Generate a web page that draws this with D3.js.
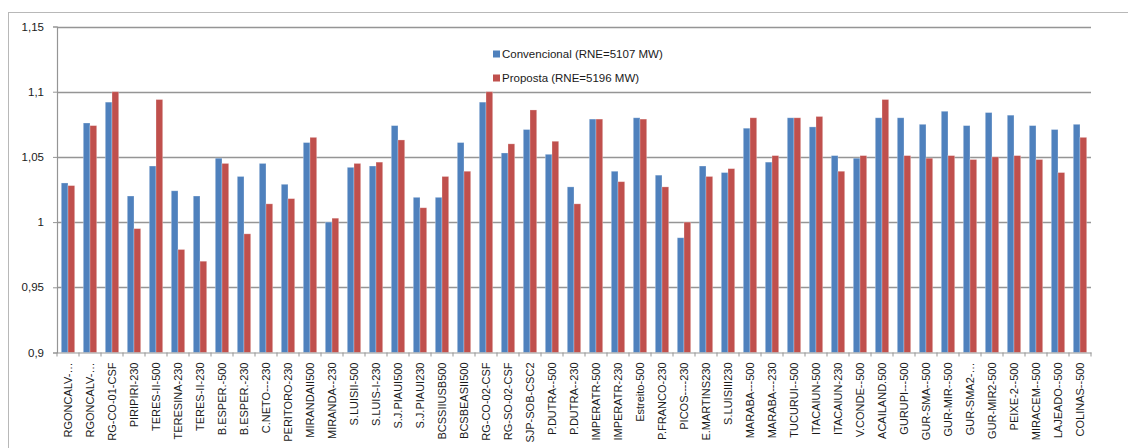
<!DOCTYPE html>
<html>
<head>
<meta charset="utf-8">
<script src="https://cdn.jsdelivr.net/npm/d3@7"></script>
<style>
  html, body { margin: 0; padding: 0; background: #fff; }
  svg { display: block; font-family: "Liberation Sans", Arial, sans-serif; }
</style>
</head>
<body>
<svg id="chart" width="1128" height="448"></svg>
<script>
const categories = [
  "RGONCALV-…", "RGONCALV-…", "RG-CO-01-CSF", "PIRIPIRI-230", "TERES-II-500",
  "TERESINA-230", "TERES-II-230", "B.ESPER.-500", "B.ESPER.-230", "C.NETO---230",
  "PERITORO-230", "MIRANDAII500", "MIRANDA--230", "S.LUISII-500", "S.LUIS-I-230",
  "S.J.PIAUI500", "S.J.PIAUI230", "BCSSIIUSB500", "BCSBEASII500", "RG-CO-02-CSF",
  "RG-SO-02-CSF", "SJP-SOB-CSC2", "P.DUTRA--500", "P.DUTRA--230", "IMPERATR-500",
  "IMPERATR-230", "Estreito-500", "P.FRANCO-230", "PICOS----230", "E.MARTINS230",
  "S.LUISIII230", "MARABA---500", "MARABA---230", "TUCURUI--500", "ITACAIUN-500",
  "ITACAIUN-230", "V.CONDE--500", "ACAILAND.500", "GURUPI---500", "GUR-SMA--500",
  "GUR-MIR--500", "GUR-SMA2-…", "GUR-MIR2-500", "PEIXE-2--500", "MIRACEM--500",
  "LAJEADO--500", "COLINAS--500"
];
const convencional = [
  1.030, 1.076, 1.092, 1.020, 1.043,
  1.024, 1.020, 1.049, 1.035, 1.045,
  1.029, 1.061, 1.000, 1.042, 1.043,
  1.074, 1.019, 1.019, 1.061, 1.092,
  1.053, 1.071, 1.052, 1.027, 1.079,
  1.039, 1.080, 1.036, 0.988, 1.043,
  1.038, 1.072, 1.046, 1.080, 1.073,
  1.051, 1.049, 1.080, 1.080, 1.075,
  1.085, 1.074, 1.084, 1.082, 1.074,
  1.071, 1.075
];
const proposta = [
  1.028, 1.074, 1.100, 0.995, 1.094,
  0.979, 0.970, 1.045, 0.991, 1.014,
  1.018, 1.065, 1.003, 1.045, 1.046,
  1.063, 1.011, 1.035, 1.039, 1.100,
  1.060, 1.086, 1.062, 1.014, 1.079,
  1.031, 1.079, 1.027, 1.000, 1.035,
  1.041, 1.080, 1.051, 1.080, 1.081,
  1.039, 1.051, 1.094, 1.051, 1.049,
  1.051, 1.048, 1.050, 1.051, 1.048,
  1.038, 1.065
];
const seriesNames = ["Convencional (RNE=5107 MW)", "Proposta (RNE=5196 MW)"];
const seriesColors = ["#4F81BD", "#C0504D"];
const yTicks = [0.9, 0.95, 1, 1.05, 1.1, 1.15];
const yTickLabels = ["0,9", "0,95", "1", "1,05", "1,1", "1,15"];

const svg = d3.select("#chart");
const plot = { left: 57, right: 1091, top: 26.5, bottom: 352.5 };

// outer chart border
svg.append("rect")
  .attr("x", 8.5).attr("y", 12.5)
  .attr("width", 1140).attr("height", 460)
  .attr("fill", "none").attr("stroke", "#b8b8b8").attr("stroke-width", 1);

const x = d3.scaleBand().domain(d3.range(categories.length))
  .range([plot.left, plot.right]).paddingInner(0.39).paddingOuter(0.195);
const xs = d3.scaleBand().domain([0, 1]).range([0, x.bandwidth()]).padding(0);
const y = d3.scaleLinear().domain([0.9, 1.15]).range([plot.bottom, plot.top]);

// gridlines
svg.append("g").selectAll("line").data(yTicks.filter(d => d > 0.9)).join("line")
  .attr("x1", plot.left).attr("x2", plot.right)
  .attr("y1", d => Math.round(y(d)) + 0.5).attr("y2", d => Math.round(y(d)) + 0.5)
  .attr("stroke", "#959595").attr("stroke-width", 1.4);

// bars
const data = [convencional, proposta];
const groups = svg.append("g").selectAll("g").data(data).join("g")
  .attr("fill", (d, i) => seriesColors[i]);
groups.each(function(vals, si) {
  d3.select(this).selectAll("rect").data(vals).join("rect")
    .attr("x", (d, i) => x(i) + xs(si))
    .attr("width", xs.bandwidth())
    .attr("y", d => y(d))
    .attr("height", d => y(0.9) - y(d))
    .attr("stroke", "rgba(255,255,255,0.35)")
    .attr("stroke-width", 0.8);
});

// y axis
const yAxis = d3.axisLeft(y).tickValues(yTicks)
  .tickFormat((d, i) => yTickLabels[i]).tickSize(4).tickPadding(9);
const gy = svg.append("g").attr("transform", `translate(${plot.left},0)`).call(yAxis);
gy.select(".domain").attr("stroke", "#959595").attr("stroke-width", 1.2);
gy.selectAll(".tick line").attr("stroke", "#959595");
gy.selectAll(".tick text").attr("font-size", 11.5).attr("fill", "#1a1a1a")
  .attr("font-family", "'Liberation Sans', Arial, sans-serif");

// x axis
const xAxis = d3.axisBottom(x).tickFormat(i => categories[i]).tickSize(0).tickPadding(0);
const gx = svg.append("g").attr("transform", `translate(0,${plot.bottom})`).call(xAxis);
gx.select(".domain").attr("stroke", "#959595").attr("stroke-width", 1.2);
gx.selectAll(".tick text")
  .attr("font-size", 11).attr("fill", "#1a1a1a")
  .attr("font-family", "'Liberation Sans', Arial, sans-serif")
  .attr("text-anchor", "end")
  .attr("dy", "0.35em")
  .attr("transform", "translate(0,10) rotate(-90)")
  .attr("x", 0).attr("y", 0);
// tick marks at category boundaries
const step = x.step();
gx.append("g").selectAll("line").data(d3.range(categories.length + 1)).join("line")
  .attr("x1", i => plot.left + i * step).attr("x2", i => plot.left + i * step)
  .attr("y1", 0).attr("y2", 4).attr("stroke", "#959595");

// legend
const legend = svg.append("g");
seriesNames.forEach((name, i) => {
  const ly = 54 + i * 24;
  legend.append("rect").attr("x", 493).attr("y", ly - 3.5).attr("width", 7).attr("height", 7)
    .attr("fill", seriesColors[i]);
  legend.append("text").attr("x", 502).attr("y", ly).attr("dy", "0.35em")
    .attr("font-size", 11.5).attr("fill", "#1a1a1a").text(name);
});
</script>
</body>
</html>
